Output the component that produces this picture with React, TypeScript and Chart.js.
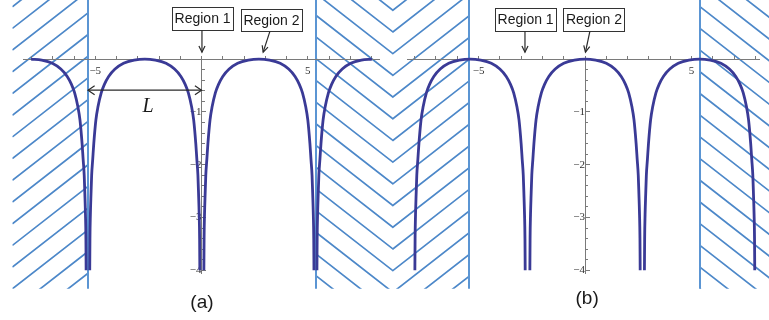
import React, { useEffect, useRef } from "react";
import { Chart, registerables } from "chart.js";

Chart.register(...registerables);

// ---------------- values ----------------
// depth of one arch, from its crest (0) to the -4 cut-off near the wall
const archDepth = [0, -0.02, -0.08, -0.19, -0.33, -0.48, -0.64, -0.9, -1.15, -1.6, -1.9, -2.2, -2.55, -2.95, -3.4, -4.0];
const archRise = [...archDepth].reverse();
const archFull = [...archRise, ...archDepth.slice(1)];

// panel (a) curves (x positions)
const curveA1X = [-8.02, -7.52, -7.02, -6.62, -6.32, -6.12, -5.97, -5.82, -5.72, -5.62, -5.57, -5.52, -5.49, -5.46, -5.44, -5.43];
const curveA2X = [-5.26, -5.25, -5.23, -5.2, -5.17, -5.12, -5.07, -4.97, -4.87, -4.72, -4.57, -4.37, -4.07, -3.67, -3.17, -2.67, -2.17, -1.67, -1.27, -0.97, -0.77, -0.62, -0.47, -0.37, -0.27, -0.22, -0.17, -0.14, -0.11, -0.09, -0.08];
const curveA3X = [0.11, 0.12, 0.14, 0.17, 0.2, 0.25, 0.3, 0.4, 0.5, 0.65, 0.8, 1.0, 1.3, 1.7, 2.2, 2.7, 3.2, 3.7, 4.1, 4.4, 4.6, 4.75, 4.9, 5.0, 5.1, 5.15, 5.2, 5.23, 5.26, 5.28, 5.29];
const curveA4X = [5.43, 5.44, 5.46, 5.49, 5.52, 5.57, 5.62, 5.72, 5.82, 5.97, 6.12, 6.32, 6.62, 7.02, 7.52, 8.02];

// panel (b) curves (x positions)
const curveB1X = [-7.99, -7.98, -7.96, -7.93, -7.9, -7.85, -7.8, -7.7, -7.6, -7.45, -7.3, -7.1, -6.8, -6.4, -5.9, -5.4, -4.9, -4.4, -4.0, -3.7, -3.5, -3.35, -3.2, -3.1, -3.0, -2.95, -2.9, -2.87, -2.84, -2.82, -2.81];
const curveB2X = [-2.59, -2.58, -2.56, -2.53, -2.5, -2.45, -2.4, -2.3, -2.2, -2.05, -1.9, -1.7, -1.4, -1.0, -0.5, 0, 0.5, 1.0, 1.4, 1.7, 1.9, 2.05, 2.2, 2.3, 2.4, 2.45, 2.5, 2.53, 2.56, 2.58, 2.59];
const curveB3X = [2.79, 2.8, 2.82, 2.85, 2.88, 2.93, 2.98, 3.08, 3.18, 3.33, 3.48, 3.68, 3.98, 4.38, 4.88, 5.38, 5.88, 6.38, 6.78, 7.08, 7.28, 7.43, 7.58, 7.68, 7.78, 7.83, 7.88, 7.91, 7.94, 7.96, 7.97];

// axes
const xTickValues = [-8, -7, -6, -5, -4, -3, -2, -1, 0, 1, 2, 3, 4, 5, 6, 7, 8];
const xLabelValues = [-5, 5];
const yMajorTicks = [-4, -3, -2, -1];
const yMinorTicks = [-3.8, -3.6, -3.4, -3.2, -2.8, -2.6, -2.4, -2.2, -1.8, -1.6, -1.4, -1.2, -0.8, -0.6, -0.4, -0.2];
const yRange = [-4.05, 0.02];
const xRangeA = [-8.4, 8.35];
const xRangeB = [-8.36, 8.17];

// walls (x = ±L) and hatched zones
const wallsA = [-5.34, 5.38];
const wallsB = [-5.45, 5.38];
const hatchSpan = [-4.35, 1.12]; // bottom, top (y units)
const hatchA = [
  { from: -8.9, to: -5.34, dir: 1, anchorX: -5.34, anchorY: -2.0 },
  { from: 5.38, to: 9.1, dir: -1, anchorX: 9.0, anchorY: -1.95 },
];
const hatchB = [
  { from: -9.1, to: -5.45, dir: 1, anchorX: -9.02, anchorY: -1.95 },
  { from: 5.38, to: 8.8, dir: -1, anchorX: 5.38, anchorY: -2.29 },
];

// annotations (data coordinates)
const labelsA = [
  { text: "Region 1", cx: 0.05, top: 0.985, bottom: 0.55, from: [0.02, 0.55], to: [0.02, 0.13] },
  { text: "Region 2", cx: 3.29, top: 0.95, bottom: 0.53, from: [3.22, 0.53], to: [2.9, 0.13] },
];
const labelsB = [
  { text: "Region 1", cx: -2.79, top: 0.966, bottom: 0.53, from: [-2.82, 0.53], to: [-2.82, 0.13] },
  { text: "Region 2", cx: 0.42, top: 0.966, bottom: 0.53, from: [0.23, 0.53], to: [0.02, 0.13] },
];
const lengthArrowA = { from: -5.34, to: 0, y: -0.59, text: "L", tx: -2.52, ty: -0.91 };
const captionA = { text: "(a)", x: 0.02, y: -4.62 };
const captionB = { text: "(b)", x: 0.1, y: -4.53 };

// ---------------- styles ----------------
const CURVE = "#3a3a96";
const HATCH = "#4d88c9";
const WALL = "#5b95d3";
const AXIS = "#7a7a7a";
const TICKTXT = "#333333";
const HATCH_SLOPE = 0.78;
const HATCH_GAP = 21.7;

const fmt = (v: number) => (v < 0 ? "\u2212" + Math.abs(v) : String(v));

function drawHead(ctx: CanvasRenderingContext2D, x1: number, y1: number, x2: number, y2: number, len: number, ang: number) {
  const a = Math.atan2(y2 - y1, x2 - x1);
  ctx.beginPath();
  ctx.moveTo(x2 - len * Math.cos(a - ang), y2 - len * Math.sin(a - ang));
  ctx.lineTo(x2, y2);
  ctx.lineTo(x2 - len * Math.cos(a + ang), y2 - len * Math.sin(a + ang));
  ctx.stroke();
}

const hatchPlugin = {
  id: "hatch",
  beforeDraw(chart: any, _a: any, opts: any) {
    const { ctx, scales } = chart;
    const x = scales.x;
    const y = scales.y;
    const top = y.getPixelForValue(opts.span[1]);
    const bottom = y.getPixelForValue(opts.span[0]);
    for (const r of opts.regions) {
      const x0 = x.getPixelForValue(r.from);
      const x1 = x.getPixelForValue(r.to);
      const ax = x.getPixelForValue(r.anchorX);
      const ay = y.getPixelForValue(r.anchorY);
      ctx.save();
      ctx.beginPath();
      ctx.rect(x0, top, x1 - x0, bottom - top);
      ctx.clip();
      ctx.strokeStyle = HATCH;
      ctx.lineWidth = 1.7;
      ctx.beginPath();
      for (let k = -40; k <= 40; k++) {
        const yk = ay + k * HATCH_GAP;
        const ya = yk + r.dir * HATCH_SLOPE * (ax - x0);
        const yb = yk - r.dir * HATCH_SLOPE * (x1 - ax);
        ctx.moveTo(x0, ya);
        ctx.lineTo(x1, yb);
      }
      ctx.stroke();
      ctx.restore();
    }
    ctx.save();
    ctx.strokeStyle = WALL;
    ctx.lineWidth = 2;
    for (const w of opts.walls) {
      const px = Math.round(x.getPixelForValue(w));
      ctx.beginPath();
      ctx.moveTo(px, top);
      ctx.lineTo(px, bottom);
      ctx.stroke();
    }
    ctx.restore();
  },
};

const notesPlugin = {
  id: "notes",
  afterDraw(chart: any, _a: any, opts: any) {
    const { ctx, scales } = chart;
    const x = scales.x;
    const y = scales.y;
    ctx.save();
    ctx.font = "14px 'Liberation Sans', Arial, sans-serif";
    ctx.textAlign = "center";
    ctx.textBaseline = "middle";
    for (const l of opts.labels) {
      const cx = x.getPixelForValue(l.cx);
      const t = y.getPixelForValue(l.top);
      const b = y.getPixelForValue(l.bottom);
      const w = 61;
      ctx.fillStyle = "#ffffff";
      ctx.fillRect(cx - w / 2, t, w, b - t);
      ctx.strokeStyle = "#333333";
      ctx.lineWidth = 1;
      ctx.strokeRect(Math.round(cx - w / 2) + 0.5, Math.round(t) + 0.5, w, Math.round(b - t));
      ctx.fillStyle = "#1a1a1a";
      ctx.fillText(l.text, cx, (t + b) / 2 + 1);
      const fx = x.getPixelForValue(l.from[0]);
      const fy = y.getPixelForValue(l.from[1]);
      const tx = x.getPixelForValue(l.to[0]);
      const ty = y.getPixelForValue(l.to[1]);
      ctx.strokeStyle = "#2a2a2a";
      ctx.lineWidth = 1.2;
      ctx.beginPath();
      ctx.moveTo(fx, fy);
      ctx.lineTo(tx, ty);
      ctx.stroke();
      drawHead(ctx, fx, fy, tx, ty, 7, 0.45);
    }
    if (opts.lengthArrow) {
      const la = opts.lengthArrow;
      const ax0 = x.getPixelForValue(la.from);
      const ax1 = x.getPixelForValue(la.to);
      const ay = y.getPixelForValue(la.y);
      ctx.strokeStyle = "#2a2a2a";
      ctx.lineWidth = 1.2;
      ctx.beginPath();
      ctx.moveTo(ax0, ay);
      ctx.lineTo(ax1, ay);
      ctx.stroke();
      drawHead(ctx, ax0, ay, ax1, ay, 8, 0.6);
      drawHead(ctx, ax1, ay, ax0, ay, 8, 0.6);
      ctx.fillStyle = "#1a1a1a";
      ctx.font = "italic 20px 'Liberation Serif', 'Times New Roman', serif";
      ctx.fillText(la.text, x.getPixelForValue(la.tx), y.getPixelForValue(la.ty));
    }
    if (opts.caption) {
      ctx.fillStyle = "#1a1a1a";
      ctx.font = "19px 'Liberation Sans', Arial, sans-serif";
      ctx.fillText(opts.caption.text, x.getPixelForValue(opts.caption.x), y.getPixelForValue(opts.caption.y));
    }
    ctx.restore();
  },
};

function buildConfig(p: any) {
  const pts = (xs: number[], ys: number[]) => xs.map((v, i) => ({ x: v, y: ys[i] }));
  const datasets = p.curves.map((c: any) => ({
    data: pts(c[0], c[1]),
    showLine: true,
    borderColor: CURVE,
    backgroundColor: CURVE,
    borderWidth: 2.8,
    pointRadius: 0,
    fill: false,
    cubicInterpolationMode: "monotone",
    clip: false,
  }));
  const tickFont = { family: "'Liberation Serif', 'Times New Roman', serif", size: 11 };
  return {
    type: "scatter",
    data: { datasets },
    plugins: [hatchPlugin, notesPlugin],
    options: {
      animation: false,
      responsive: false,
      devicePixelRatio: 1,
      events: [],
      layout: { padding: p.padding },
      plugins: {
        legend: { display: false },
        tooltip: { enabled: false },
        hatch: { regions: p.hatch, walls: p.walls, span: hatchSpan },
        notes: { labels: p.labels, lengthArrow: p.lengthArrow, caption: p.caption },
      },
      scales: {
        x: {
          type: "linear",
          min: p.xRange[0],
          max: p.xRange[1],
          position: { y: 0 },
          afterFit: (s: any) => { s.height = 0; },
          afterBuildTicks: (s: any) => { s.ticks = xTickValues.map((v) => ({ value: v })); },
          grid: { drawOnChartArea: false, drawTicks: true, tickLength: -4, tickColor: AXIS, tickWidth: 1 },
          border: { display: true, color: AXIS, width: 1 },
          ticks: {
            autoSkip: false,
            maxRotation: 0,
            padding: 9,
            color: TICKTXT,
            font: tickFont,
            callback: (v: number) => (xLabelValues.includes(v) ? fmt(v) : ""),
          },
        },
        y: {
          type: "linear",
          min: yRange[0],
          max: yRange[1],
          position: { x: 0 },
          afterFit: (s: any) => { s.width = 0; },
          afterBuildTicks: (s: any) => { s.ticks = yMajorTicks.map((v) => ({ value: v })); },
          grid: { drawOnChartArea: false, drawTicks: true, tickLength: -5, tickColor: AXIS, tickWidth: 1 },
          border: { display: true, color: AXIS, width: 1 },
          ticks: { autoSkip: false, padding: 9, color: TICKTXT, font: tickFont, callback: (v: number) => fmt(v) },
        },
        yMinor: {
          axis: "y",
          type: "linear",
          min: yRange[0],
          max: yRange[1],
          position: { x: 0 },
          afterFit: (s: any) => { s.width = 0; },
          afterBuildTicks: (s: any) => { s.ticks = yMinorTicks.map((v) => ({ value: v })); },
          grid: { drawOnChartArea: false, drawTicks: true, tickLength: -3, tickColor: AXIS, tickWidth: 1 },
          border: { display: false },
          ticks: { autoSkip: false, callback: () => "" },
        },
      },
    },
  };
}

const panelA = {
  curves: [
    [curveA1X, archDepth],
    [curveA2X, archFull],
    [curveA3X, archFull],
    [curveA4X, archRise],
  ],
  xRange: xRangeA,
  padding: { left: 23, right: 14, top: 58, bottom: 47 },
  hatch: hatchA,
  walls: wallsA,
  labels: labelsA,
  lengthArrow: lengthArrowA,
  caption: captionA,
};

const panelB = {
  curves: [
    [curveB1X, archFull],
    [curveB2X, archFull],
    [curveB3X, archFull],
  ],
  xRange: xRangeB,
  padding: { left: 14, right: 10, top: 58, bottom: 47 },
  hatch: hatchB,
  walls: wallsB,
  labels: labelsB,
  lengthArrow: null,
  caption: captionB,
};

function Panel({ spec, left, width }: { spec: any; left: number; width: number }) {
  const ref = useRef<HTMLCanvasElement>(null);
  useEffect(() => {
    const chart = new Chart(ref.current as HTMLCanvasElement, buildConfig(spec) as any);
    return () => chart.destroy();
  }, [spec]);
  return (
    <canvas
      ref={ref}
      width={width}
      height={320}
      style={{ position: "absolute", left, top: 0, width, height: 320, display: "block" }}
    />
  );
}

export default function App() {
  return (
    <div style={{ position: "fixed", left: 0, top: 0, width: 769, height: 320, background: "#ffffff", overflow: "hidden" }}>
      <Panel spec={panelA} left={0} width={393} />
      <Panel spec={panelB} left={393} width={376} />
    </div>
  );
}
